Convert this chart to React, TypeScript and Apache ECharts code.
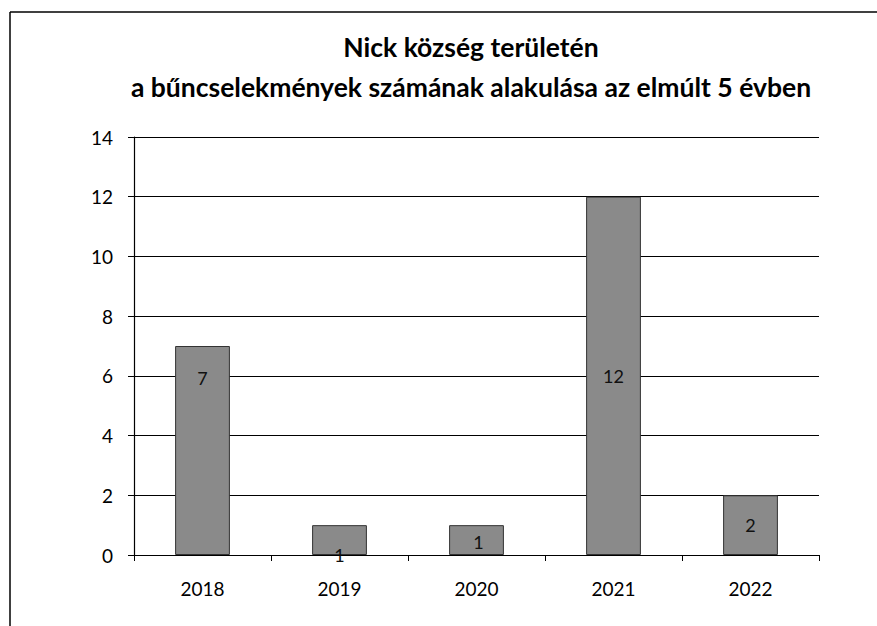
import React, { useEffect, useRef } from "react";
import * as echarts from "echarts";

const titleLines = ["Nick község területén", "a bűncselekmények számának alakulása az elmúlt 5 évben"];
const years = ["2018", "2019", "2020", "2021", "2022"];
const crimes = [7, 1, 1, 12, 2];
const yTicks = { min: 0, max: 14, interval: 2 };

export default function App() {
  const ref = useRef<HTMLDivElement>(null);
  useEffect(() => {
    document.body.style.margin = "0";
    const chart = echarts.init(ref.current!, null, { renderer: "svg" });
    const font = "Lato, 'Open Sans', sans-serif";
    const labelTweaks: any[] = [
      { position: "insideTop", distance: 23 },
      { offset: [0, 15] },
      { offset: [2, 2] },
      {},
      {},
    ];
    chart.setOption({
      animation: false,
      backgroundColor: "#ffffff",
      textStyle: { fontFamily: font },
      title: {
        text: titleLines.join("\n"),
        left: 466,
        textAlign: "center",
        top: 22,
        textStyle: { fontSize: 26.5, fontWeight: "bold", color: "#000", lineHeight: 40, fontFamily: font },
      },
      graphic: [
        { type: "line", shape: { x1: 10, y1: 12, x2: 10, y2: 626 }, style: { stroke: "#000", lineWidth: 1.5 } },
        { type: "line", shape: { x1: 10, y1: 12, x2: 877, y2: 12 }, style: { stroke: "#000", lineWidth: 1.5 } },
      ],
      grid: { left: 134, right: 58, top: 137, bottom: 71, containLabel: false },
      xAxis: {
        type: "category",
        data: years,
        axisLine: { lineStyle: { color: "#000", width: 1.2 } },
        axisTick: { show: true, length: 6, lineStyle: { color: "#000" }, alignWithLabel: false },
        axisLabel: { color: "#000", fontSize: 19, margin: 24, fontFamily: font },
      },
      yAxis: {
        type: "value",
        min: yTicks.min,
        max: yTicks.max,
        interval: yTicks.interval,
        axisLine: { show: true, lineStyle: { color: "#000", width: 1.2 } },
        axisTick: { show: true, length: 6, lineStyle: { color: "#000" } },
        axisLabel: { color: "#000", fontSize: 19, margin: 21, fontFamily: font },
        splitLine: { lineStyle: { color: "#000", width: 1.2 } },
      },
      series: [
        {
          type: "bar",
          barWidth: "40%",
          data: crimes.map((v, i) => ({ value: v, label: labelTweaks[i] })),
          itemStyle: { color: "#8a8a8a", borderColor: "#333", borderWidth: 1 },
          label: { show: true, position: "inside", color: "#111", fontSize: 18, fontFamily: font },
        },
      ],
    });
    return () => chart.dispose();
  }, []);
  return <div ref={ref} style={{ width: 877, height: 626, position: "absolute", left: 0, top: 0 }} />;
}
